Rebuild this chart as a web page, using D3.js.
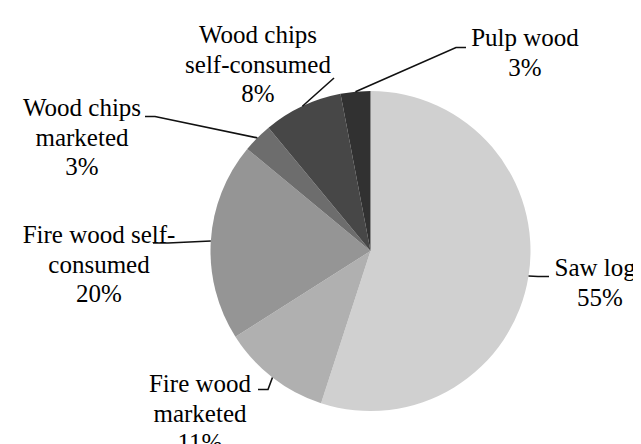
<!DOCTYPE html>
<html><head><meta charset="utf-8"><script src="https://cdn.jsdelivr.net/npm/d3@7"></script></head>
<body><svg id="chart" width="641" height="444"></svg>
<script>
// Roundwood use shares, clockwise from 12 o'clock
const categories = [
  "Saw logs",
  "Fire wood marketed",
  "Fire wood self-consumed",
  "Wood chips marketed",
  "Wood chips self-consumed",
  "Pulp wood"
];
const shares = [55, 11, 20, 3, 8, 3];
// how each category name wraps in its label
const labelLines = [
  ["Saw logs"],
  ["Fire wood", "marketed"],
  ["Fire wood self-", "consumed"],
  ["Wood chips", "marketed"],
  ["Wood chips", "self-consumed"],
  ["Pulp wood"]
];
const fills = ["#d0d0d0", "#b0b0b0", "#959595", "#6d6d6d", "#474747", "#313131"];

// label block placement (centre x, first baseline) and leader elbow/end points
const labelLayout = [
  { x: 592, y: 268, elbow: [530, 268.5], end: [541, 268.5] },
  { x: 192, y: 384, elbow: [260, 381.5], end: [250, 381.5] },
  { x: 91,  y: 235, elbow: [160, 235],   end: [145, 235] },
  { x: 74,  y: 108, elbow: [147, 108.5], end: [137, 108.5] },
  { x: 250, y: 35,  elbow: [326, 70],    end: [326, 70] },
  { x: 517, y: 38,  elbow: [448, 39.5],  end: [458, 39.5] }
];

const cx = 362.5, cy = 243, radius = 160;
const lineGap = 29.7;

const svg = d3.select("#chart");
const g = svg.append("g").attr("transform", `translate(${cx},${cy})`);

const pie = d3.pie().sort(null).value(d => d.value);
const arcs = pie(categories.map((c, i) => ({ name: c, value: shares[i], i })));
const arc = d3.arc().innerRadius(0).outerRadius(radius);

g.selectAll("path.slice")
  .data(arcs)
  .join("path")
  .attr("class", "slice")
  .attr("d", arc)
  .attr("fill", d => fills[d.data.i]);

// leader lines: from the rim at each slice's mid angle to the label
const leader = d3.line();
svg.selectAll("path.leader")
  .data(arcs)
  .join("path")
  .attr("class", "leader")
  .attr("fill", "none")
  .attr("stroke", "#111")
  .attr("stroke-width", 1.6)
  .attr("d", d => {
    const a = (d.startAngle + d.endAngle) / 2;
    const p0 = [cx + radius * Math.sin(a), cy - radius * Math.cos(a)];
    const L = labelLayout[d.data.i];
    return leader([p0, L.elbow, L.end]);
  });

// labels: one text per line (wrapped name, then the percentage)
const labelRows = arcs.flatMap(d => {
  const L = labelLayout[d.data.i];
  return labelLines[d.data.i].concat([d.data.value + "%"])
    .map((t, k) => ({ t, x: L.x, y: L.y + k * lineGap }));
});

svg.selectAll("text")
  .data(labelRows)
  .join("text")
  .attr("x", r => r.x)
  .attr("y", r => r.y)
  .attr("text-anchor", "middle")
  .style("font-family", r => `"Liberation Serif", monospace`)
  .style("font-size", "25px")
  .text(r => r.t);
</script></body></html>
